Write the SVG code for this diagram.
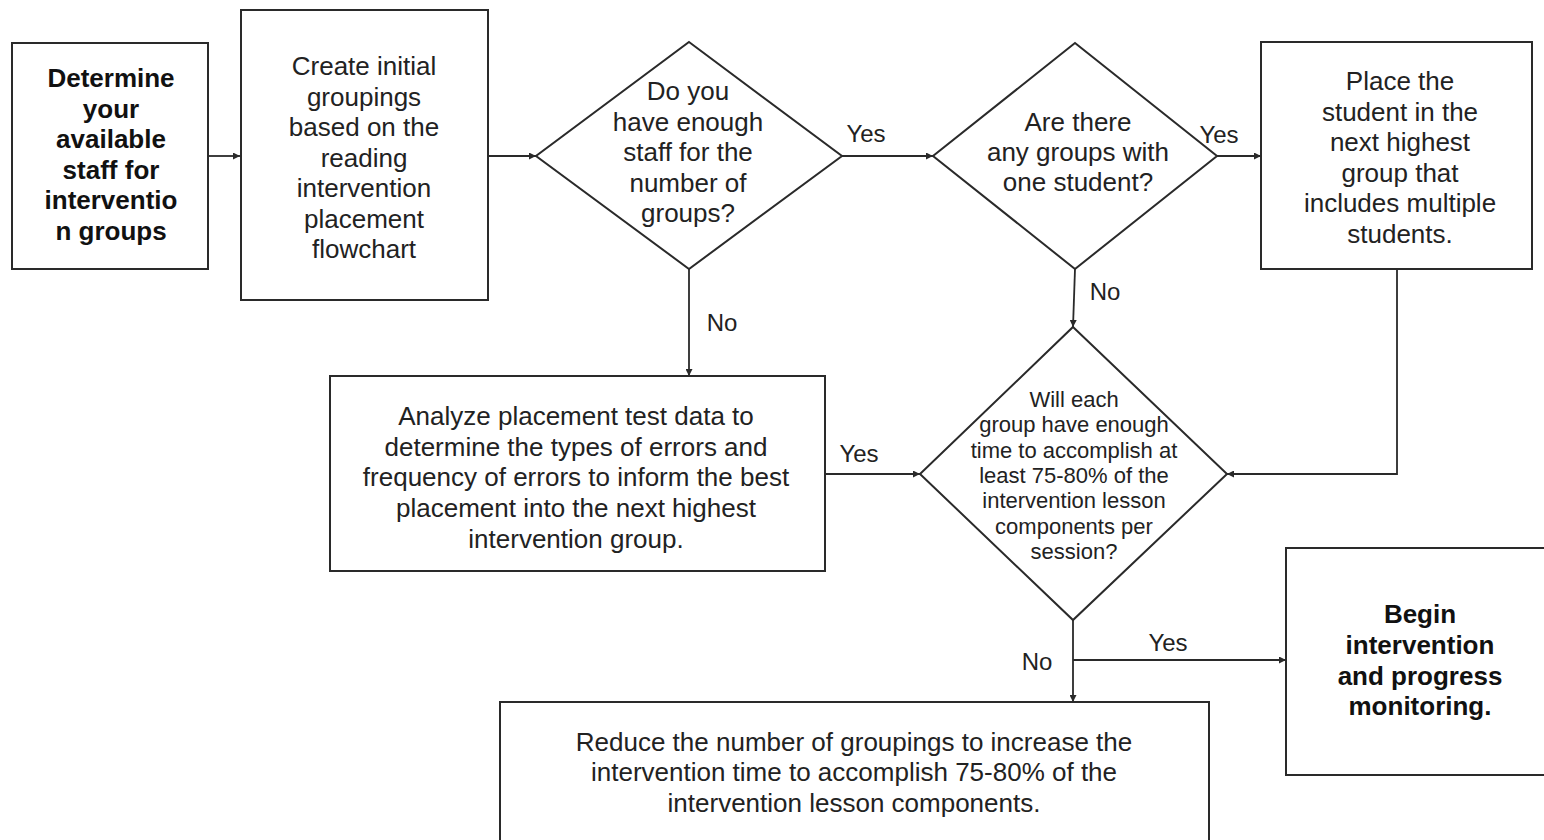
<svg xmlns="http://www.w3.org/2000/svg" width="1544" height="840" viewBox="0 0 1544 840">
  <style>
    .shape { fill: #ffffff; stroke: #2a2a2a; stroke-width: 2; }
    .conn { fill: none; stroke: #2a2a2a; stroke-width: 1.8; }
    .t { font-family: "Liberation Sans", Arial, sans-serif; font-size: 26px; fill: #222222; text-anchor: middle; }
    .b { font-weight: bold; fill: #111111; }
    .s { font-size: 22px; }
    .lbl { font-family: "Liberation Sans", Arial, sans-serif; font-size: 24px; fill: #222222; text-anchor: middle; }
  </style>
  <defs>
    <marker id="arrow" viewBox="0 0 10 10" refX="10" refY="5" markerWidth="9" markerHeight="7" markerUnits="userSpaceOnUse" orient="auto">
      <path d="M0,0 L10,5 L0,10 z" fill="#2a2a2a"/>
    </marker>
  </defs>
  <rect width="1544" height="840" fill="#ffffff"/>

  <!-- connectors -->
  <g id="connectors">
    <line class="conn" x1="208" y1="156" x2="240" y2="156" marker-end="url(#arrow)"/>
    <line class="conn" x1="488" y1="156" x2="536" y2="156" marker-end="url(#arrow)"/>
    <line class="conn" x1="842" y1="156" x2="933" y2="156" marker-end="url(#arrow)"/>
    <line class="conn" x1="1217" y1="156" x2="1261" y2="156" marker-end="url(#arrow)"/>
    <line class="conn" x1="689" y1="269" x2="689" y2="376" marker-end="url(#arrow)"/>
    <line class="conn" x1="1075" y1="269" x2="1073" y2="327" marker-end="url(#arrow)"/>
    <polyline class="conn" points="1397,269 1397,474 1227,474" marker-end="url(#arrow)"/>
    <line class="conn" x1="825" y1="474" x2="920" y2="474" marker-end="url(#arrow)"/>
    <line class="conn" x1="1073" y1="620" x2="1073" y2="702" marker-end="url(#arrow)"/>
    <line class="conn" x1="1073" y1="660" x2="1286" y2="660" marker-end="url(#arrow)"/>
    <text class="lbl" x="866" y="142">Yes</text>
    <text class="lbl" x="1219" y="143">Yes</text>
    <text class="lbl" x="1105" y="300">No</text>
    <text class="lbl" x="722" y="331">No</text>
    <text class="lbl" x="859" y="462">Yes</text>
    <text class="lbl" x="1168" y="651">Yes</text>
    <text class="lbl" x="1037" y="670">No</text>
  </g>

  <!-- start: staff availability -->
  <g id="n-staff">
    <rect class="shape" x="12" y="43" width="196" height="226"/>
    <text class="t b" x="111" y="87">Determine</text>
    <text class="t b" x="111" y="117.5">your</text>
    <text class="t b" x="111" y="148">available</text>
    <text class="t b" x="111" y="179">staff for</text>
    <text class="t b" x="111" y="209">interventio</text>
    <text class="t b" x="111" y="240">n groups</text>
  </g>

  <g id="n-initial">
    <rect class="shape" x="241" y="10" width="247" height="290"/>
    <text class="t" x="364" y="75">Create initial</text>
    <text class="t" x="364" y="106">groupings</text>
    <text class="t" x="364" y="136">based on the</text>
    <text class="t" x="364" y="167">reading</text>
    <text class="t" x="364" y="197">intervention</text>
    <text class="t" x="364" y="228">placement</text>
    <text class="t" x="364" y="258">flowchart</text>
  </g>

  <g id="d-enough-staff">
    <polygon class="shape" points="689,42 842,156 689,269 536,156"/>
    <text class="t" x="688" y="100">Do you</text>
    <text class="t" x="688" y="131">have enough</text>
    <text class="t" x="688" y="161">staff for the</text>
    <text class="t" x="688" y="192">number of</text>
    <text class="t" x="688" y="222">groups?</text>
  </g>

  <g id="d-one-student">
    <polygon class="shape" points="1075,43 1217,156 1075,269 933,156"/>
    <text class="t" x="1078" y="131">Are there</text>
    <text class="t" x="1078" y="161">any groups with</text>
    <text class="t" x="1078" y="191">one student?</text>
  </g>

  <g id="n-place">
    <rect class="shape" x="1261" y="42" width="271" height="227"/>
    <text class="t" x="1400" y="90">Place the</text>
    <text class="t" x="1400" y="120.5">student in the</text>
    <text class="t" x="1400" y="151">next highest</text>
    <text class="t" x="1400" y="181.5">group that</text>
    <text class="t" x="1400" y="212">includes multiple</text>
    <text class="t" x="1400" y="242.5">students.</text>
  </g>

  <g id="n-analyze">
    <rect class="shape" x="330" y="376" width="495" height="195"/>
    <text class="t" x="576" y="425">Analyze placement test data to</text>
    <text class="t" x="576" y="456">determine the types of errors and</text>
    <text class="t" x="576" y="486">frequency of errors to inform the best</text>
    <text class="t" x="576" y="517">placement into the next highest</text>
    <text class="t" x="576" y="548">intervention group.</text>
  </g>

  <g id="d-enough-time">
    <polygon class="shape" points="1073,327 1227,474 1073,620 920,474"/>
    <text class="t s" x="1074" y="407">Will each</text>
    <text class="t s" x="1074" y="432">group have enough</text>
    <text class="t s" x="1074" y="458">time to accomplish at</text>
    <text class="t s" x="1074" y="483">least 75-80% of the</text>
    <text class="t s" x="1074" y="508">intervention lesson</text>
    <text class="t s" x="1074" y="534">components per</text>
    <text class="t s" x="1074" y="559">session?</text>
  </g>

  <g id="n-begin">
    <rect class="shape" x="1286" y="548" width="270" height="227"/>
    <text class="t b" x="1420" y="623">Begin</text>
    <text class="t b" x="1420" y="654">intervention</text>
    <text class="t b" x="1420" y="685">and progress</text>
    <text class="t b" x="1420" y="715">monitoring.</text>
  </g>

  <g id="n-reduce">
    <rect class="shape" x="500" y="702" width="709" height="160"/>
    <text class="t" x="854" y="751">Reduce the number of groupings to increase the</text>
    <text class="t" x="854" y="781">intervention time to accomplish 75-80% of the</text>
    <text class="t" x="854" y="812">intervention lesson components.</text>
  </g>
</svg>
